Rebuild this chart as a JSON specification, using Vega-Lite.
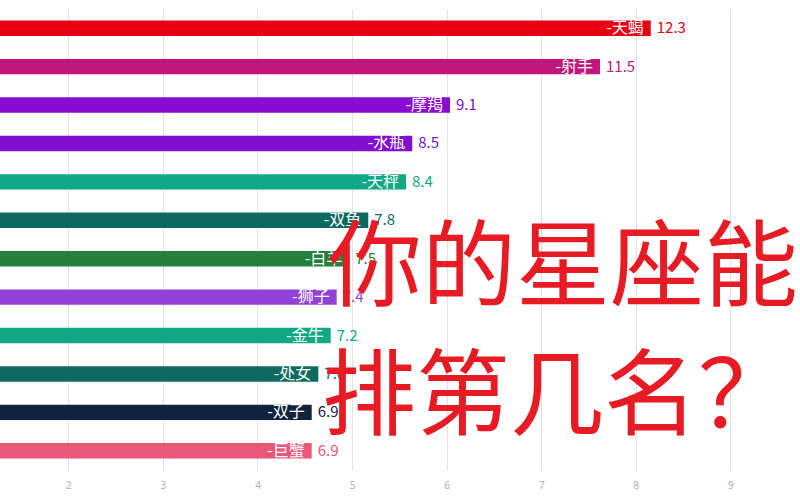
{
  "$schema": "https://vega.github.io/schema/vega-lite/v6.json",
  "autosize": "none",
  "width": 800,
  "height": 461,
  "padding": {"top": 9, "bottom": 30, "left": 0, "right": 0},
  "background": "white",
  "config": {"view": {"stroke": null}, "font": "Noto Sans CJK SC"},
  "datasets": {
    "bars": [
      {"name": "天蝎", "score": "12.3", "bar": 8.157, "color": "#E60012"},
      {"name": "射手", "score": "11.5", "bar": 7.621, "color": "#C0157A"},
      {"name": "摩羯", "score": "9.1", "bar": 6.035, "color": "#8A0BD0"},
      {"name": "水瓶", "score": "8.5", "bar": 5.636, "color": "#800FD0"},
      {"name": "天秤", "score": "8.4", "bar": 5.570, "color": "#10A884"},
      {"name": "双鱼", "score": "7.8", "bar": 5.171, "color": "#0C6860"},
      {"name": "白羊", "score": "7.5", "bar": 4.970, "color": "#24803C"},
      {"name": "狮子", "score": "7.4", "bar": 4.837, "color": "#9140D8"},
      {"name": "金牛", "score": "7.2", "bar": 4.774, "color": "#10A884"},
      {"name": "处女", "score": "7.0", "bar": 4.643, "color": "#0E6A60"},
      {"name": "双子", "score": "6.9", "bar": 4.573, "color": "#10223D"},
      {"name": "巨蟹", "score": "6.9", "bar": 4.573, "color": "#EC5678"}
    ],
    "caption": [
      {"line": "你的星座能", "anchor": 4.745, "row": "白羊", "shift": 20},
      {"line": "排第几名？", "anchor": 4.682, "row": "双子", "shift": -5}
    ]
  },
  "layer": [
    {
      "data": {"name": "bars"},
      "mark": {"type": "bar", "clip": true},
      "encoding": {
        "y": {"field": "name", "type": "nominal", "sort": null, "axis": null,
              "scale": {"paddingInner": 0.6, "paddingOuter": 0.3}},
        "x": {"field": "bar", "type": "quantitative",
              "scale": {"domain": [1.278, 9.735], "nice": false, "zero": false},
              "axis": {"values": [2, 3, 4, 5, 6, 7, 8, 9], "format": "d", "title": null, "grid": true,
                       "gridColor": "#e2e2e2", "domain": false, "ticks": false,
                       "labelColor": "#aaaaaa", "labelFontSize": 10, "labelPadding": 10,
                       "labelFont": "Open Sans"}},
        "x2": {"datum": 0},
        "color": {"field": "color", "type": "nominal", "scale": null}
      }
    },
    {
      "data": {"name": "bars"},
      "transform": [{"calculate": "'-' + datum.name", "as": "label"}],
      "mark": {"type": "text", "align": "right", "baseline": "middle", "dx": -7, "fontSize": 16, "color": "white"},
      "encoding": {
        "y": {"field": "name", "type": "nominal", "sort": null},
        "x": {"field": "bar", "type": "quantitative"},
        "text": {"field": "label"}
      }
    },
    {
      "data": {"name": "bars"},
      "mark": {"type": "text", "align": "left", "baseline": "middle", "dx": 6, "fontSize": 15},
      "encoding": {
        "y": {"field": "name", "type": "nominal", "sort": null},
        "x": {"field": "bar", "type": "quantitative"},
        "text": {"field": "score"},
        "color": {"field": "color", "type": "nominal", "scale": null}
      }
    },
    {
      "data": {"name": "caption"},
      "mark": {"type": "text", "align": "left", "baseline": "middle", "fontSize": 94, "color": "#E61B24"},
      "encoding": {
        "y": {"field": "row", "type": "nominal", "sort": null},
        "x": {"field": "anchor", "type": "quantitative"},
        "yOffset": {"field": "shift", "type": "quantitative", "scale": null},
        "text": {"field": "line"}
      }
    }
  ]
}
